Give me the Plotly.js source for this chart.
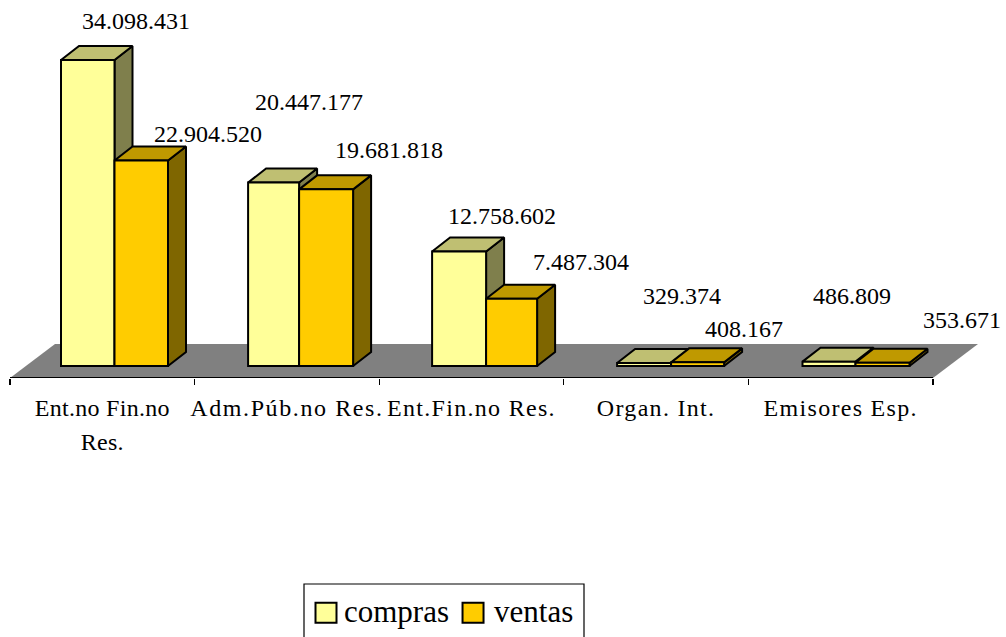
<!DOCTYPE html>
<html><head><meta charset="utf-8">
<script src="https://cdn.plot.ly/plotly-3.0.1.min.js"></script>
<style>html,body{margin:0;padding:0;background:#fff;overflow:hidden}</style></head>
<body><div id="chart" style="width:1006px;height:637px"></div>
<script>
// DATA
const categories = ['Ent.no Fin.no<br>Res.', 'Adm.Púb.no Res.', 'Ent.Fin.no Res.', 'Organ. Int.', 'Emisores Esp.'];
const compras = [34098431, 20447177, 12758602, 329374, 486809];
const ventas  = [22904520, 19681818, 7487304, 408167, 353671];

// LAYOUT CONSTANTS
const FONT = 'Liberation Serif';
const PXW = 923 / 5, PXH = 306 / 34098431;        // pixels per category, pixels per value unit
const catX = categories.map((_, i) => i);
const widthC = [53.5, 51, 54, 54, 53].map(p => p / PXW);
const widthV = [53.5, 54, 51, 53, 54].map(p => p / PXW);
const groupShift = [12.2, 12.2, 14.6, 15, 14.8].map(p => p / PXW);
const depthX = 18 / PXW, depthY = 14 / PXH;
const floorDX = 45 / PXW, floorFront = -12 / PXH, floorBack = 22 / PXH;
const EDGE = {color: '#000', width: 2};
const tickSpacing = [0.3, 1.6, 1.3, 1.3, 1.3];
// label offsets from the top centre of each bar's front face, in px
const labelShiftC = [[48, -39], [35, -81], [43, -36], [38, -67], [23, -66]];
const labelShiftV = [[67, -26], [63, -39], [69, -37], [46, -33], [79, -43]];

const fmt = v => String(v).replace(/\B(?=(\d{3})+(?!\d))/g, '.');

function face(vals, x0Of, w, color, kind) {
  const xs = [], ys = [];
  vals.forEach((v, i) => {
    const a = x0Of(i), b = a + w[i];
    if (kind === 'side') {
      xs.push(b, b + depthX, b + depthX, b, b, null);
      ys.push(0, depthY, v + depthY, v, 0, null);
    } else {
      xs.push(a, b, b + depthX, a + depthX, a, null);
      ys.push(v, v, v + depthY, v + depthY, v, null);
    }
  });
  return {type: 'scatter', mode: 'lines', x: xs, y: ys, fill: 'toself', fillcolor: color,
          line: EDGE, showlegend: false, hoverinfo: 'skip', cliponaxis: false, xaxis: 'x', yaxis: 'y'};
}
const leftC = i => i + groupShift[i] - widthC[i];
const leftV = i => i + groupShift[i];

const floor = {type: 'scatter', mode: 'lines', x: [-0.5, 4.5, 4.5 + floorDX, -0.5 + floorDX, -0.5],
  y: [floorFront, floorFront, floorBack, floorBack, floorFront], fill: 'toself', fillcolor: '#808080',
  line: {width: 0}, showlegend: false, hoverinfo: 'skip', cliponaxis: false, xaxis: 'x', yaxis: 'y'};
const axisLine = {type: 'scatter', mode: 'lines', x: [-0.5, 4.5], y: [floorFront, floorFront],
  line: {color: '#000', width: 1.8}, showlegend: false, hoverinfo: 'skip', cliponaxis: false, xaxis: 'x', yaxis: 'y'};

const barOpts = (name, vals, color, w, offs) => ({type: 'bar', name, x: catX, y: vals, width: w,
  offset: offs, marker: {color, line: EDGE}, hoverinfo: 'skip', xaxis: 'x2', yaxis: 'y2'});

const traces = [
  floor, axisLine,
  face(compras, leftC, widthC, '#7F7F4C', 'side'), face(compras, leftC, widthC, '#BFBF72', 'top'),
  face(ventas, leftV, widthV, '#7F6600', 'side'), face(ventas, leftV, widthV, '#BF9900', 'top'),
  barOpts('compras', compras, '#FFFF99', widthC, groupShift.map((s, i) => s - widthC[i])),
  barOpts('ventas', ventas, '#FFCC00', widthV, groupShift)
];

const anno = (vals, left, w, shifts) => vals.map((v, i) => ({
  x: left(i) + w[i] / 2, y: v, xref: 'x', yref: 'y', text: fmt(v), showarrow: false,
  xanchor: 'center', yanchor: 'middle', xshift: shifts[i][0], yshift: -shifts[i][1],
  font: {family: FONT, size: 24, color: '#000'}
}));

const yRange = [floorFront, 366 / PXH];
const xRange = [-0.5, 4.5 + 67 / PXW];
const layout = {
  width: 1006, height: 637, autosize: false, paper_bgcolor: '#fff', plot_bgcolor: 'rgba(0,0,0,0)',
  margin: {l: 10, r: 6, t: 0, b: 259, pad: 0}, barmode: 'overlay', showlegend: true,
  font: {family: FONT, color: '#000'},
  xaxis: {type: 'linear', range: xRange, tickmode: 'array', tickvals: catX, ticktext: categories,
    ticks: '', tickangle: 0, showgrid: false, zeroline: false, showline: false,
    tickfont: {family: FONT, size: 24, color: '#000'}, ticklabelstandoff: 13,
    minor: {tickmode: 'array', tickvals: [-0.5, 0.5, 1.5, 2.5, 3.5, 4.5], ticks: 'outside', ticklen: 6, tickwidth: 1.2, tickcolor: '#000', showgrid: false}},
  yaxis: {range: yRange, visible: false},
  xaxis2: {range: xRange, overlaying: 'x', visible: false, type: 'linear'},
  yaxis2: {range: yRange, overlaying: 'y', visible: false},
  annotations: [...anno(compras, leftC, widthC, labelShiftC), ...anno(ventas, leftV, widthV, labelShiftV)],
  shapes: [{type: 'rect', xref: 'paper', yref: 'paper',
    x0: (304 - 10) / 990, x1: (584 - 10) / 990, y0: (378 - 584) / 378, y1: (378 - 650) / 378,
    line: {color: '#000', width: 1.2}, fillcolor: 'rgba(0,0,0,0)', layer: 'below'}],
  legend: {orientation: 'h', xref: 'container', yref: 'container', x: 304 / 1006, y: 1 - 583 / 637,
    xanchor: 'left', yanchor: 'top', font: {family: FONT, size: 31, color: '#000'},
    bgcolor: 'rgba(0,0,0,0)', borderwidth: 0, itemclick: false, itemdoubleclick: false}
};

const gd = document.getElementById('chart');
function polish() {
  const swatch = ['M12.5,13H-8.5V-7H12.5Z', 'M9.5,13H-11.5V-7H9.5Z'];
  gd.querySelectorAll('.legendpoints path').forEach((p, i) => p.setAttribute('d', swatch[i]));
  gd.querySelectorAll('.xtick text').forEach((t, i) => {
    t.style.letterSpacing = tickSpacing[i] + 'px';
    const lines = t.querySelectorAll('tspan.line');
    if (lines[1]) lines[1].setAttribute('dy', '34px');
  });
}
Plotly.newPlot(gd, traces, layout, {displayModeBar: false, staticPlot: true}).then(polish);
</script></body></html>
